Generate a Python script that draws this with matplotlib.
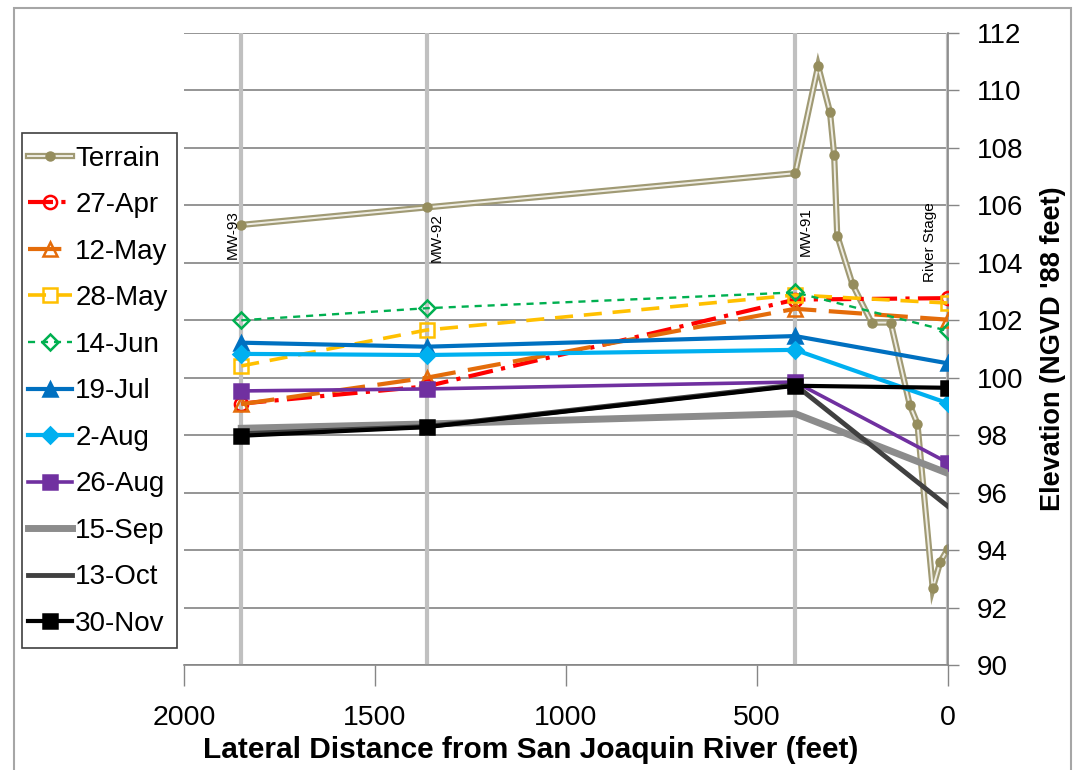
import matplotlib.pyplot as plt
from matplotlib.legend_handler import HandlerTuple
from matplotlib.patches import Rectangle

plt.rcParams['font.family'] = ['Liberation Sans', 'DejaVu Sans']

# distance from the river (feet) of the wells / river gauge
WELL_X = [1850, 1365, 400, 0]
WELL_LABELS = ['MW-93', 'MW-92', 'MW-91', 'River Stage']
WELL_LABEL_TOP = [105.85, 105.73, 105.94, 106.1]

# ground surface profile
TERRAIN_X = [1850, 1365, 400, 340, 309, 298, 290, 250, 200, 150, 100, 80, 40, 20, 0]
TERRAIN_Y = [105.32, 105.93, 107.12, 110.85, 109.25, 107.75, 104.95, 103.25,
             101.92, 101.92, 99.05, 98.4, 92.67, 93.6, 94.05]

# water levels at MW-93, MW-92, MW-91, river stage
DATES = ['27-Apr', '12-May', '28-May', '14-Jun', '19-Jul', '2-Aug',
         '26-Aug', '15-Sep', '13-Oct', '30-Nov']
APR27 = [99.1, 99.7, 102.72, 102.77]
MAY12 = [99.08, 100.0, 102.4, 102.02]
MAY28 = [100.41, 101.66, 102.88, 102.6]
JUN14 = [102.0, 102.42, 102.97, 101.63]
JUL19 = [101.22, 101.08, 101.45, 100.5]
AUG02 = [100.83, 100.79, 100.97, 99.11]
AUG26 = [99.54, 99.61, 99.85, 97.04]
SEP15 = [98.24, 98.39, 98.75, 96.67]
OCT13 = [98.05, 98.3, 99.75, 95.52]
NOV30 = [97.98, 98.28, 99.72, 99.65]
LEVELS = [APR27, MAY12, MAY28, JUN14, JUL19, AUG02, AUG26, SEP15, OCT13, NOV30]

# (color, linewidth, dashes, marker, filled marker)
STYLES = [('#ff0000', 3.0, (6, 2, 1, 2), 'o', False),
          ('#e46c0a', 3.0, (8, 3), '^', False),
          ('#ffc000', 2.6, (5, 3), 's', False),
          ('#00b050', 1.7, (3, 2.5), 'D', False),
          ('#0070c0', 3.0, None, '^', True),
          ('#00b0f0', 3.0, None, 'D', True),
          ('#7030a0', 2.6, None, 's', True),
          ('#8c8c8c', 5.0, None, None, True),
          ('#404040', 3.5, None, None, True),
          ('#000000', 3.0, None, 's', True)]

W, H = 1075, 770
fig = plt.figure(figsize=(W / 100, H / 100), dpi=100)
ax = fig.add_axes([184 / W, 1 - 665 / H, (948 - 184) / W, (665 - 33) / H])

# vertical lines at the wells
for x in WELL_X:
	ax.axvline(x, color='#c0c0c0', lw=3, zorder=1.5)

# terrain drawn as a double line
t_out, = ax.plot(TERRAIN_X, TERRAIN_Y, color='#a09a74', lw=4.5, zorder=2, solid_joinstyle='miter')
t_in, = ax.plot(TERRAIN_X, TERRAIN_Y, color='#efede4', lw=1.4, zorder=2.1)
t_mk, = ax.plot(TERRAIN_X, TERRAIN_Y, ls='none', marker='o', ms=6.5, color='#958d5d', zorder=2.2)

handles = [(t_out, t_in, t_mk)]
labels = ['Terrain']
for i in range(len(DATES)):
	color, lw, dashes, marker, filled = STYLES[i]
	kw = dict(color=color, lw=lw, zorder=3 + i * 0.1)
	if dashes is not None:
		kw['dashes'] = dashes
	if marker is not None:
		kw['marker'] = marker
		kw['ms'] = 9.5 if marker != 'D' else 8.5
		kw['mec'] = color
		kw['mew'] = 1.8
		kw['mfc'] = color if filled else 'none'
	ln, = ax.plot(WELL_X, LEVELS[i], **kw)
	handles.append(ln)
	labels.append(DATES[i])

# well names, rotated
offs = [-9, 10, 11, -18]
for i in range(len(WELL_X)):
	ax.annotate(WELL_LABELS[i], xy=(WELL_X[i], WELL_LABEL_TOP[i]), xytext=(offs[i], 0),
		textcoords='offset pixels', rotation=90, ha='center', va='top', fontsize=11, zorder=5)

ax.set_xlim(2000, 0)
ax.set_ylim(90, 112)
ax.set_xticks([2000, 1500, 1000, 500, 0])
ax.set_yticks(range(90, 113, 2))
ax.yaxis.tick_right()
ax.yaxis.set_label_position('right')
ax.yaxis.grid(True, color='#8c8c8c', lw=1.3)
ax.set_axisbelow(True)
ax.spines['left'].set_visible(False)
ax.spines['top'].set_visible(False)
for s in ['right', 'bottom']:
	ax.spines[s].set_color('#868686')
	ax.spines[s].set_linewidth(1.2)
ax.tick_params(axis='y', direction='out', length=8, width=1, color='#868686', pad=13, labelsize=20)
ax.tick_params(axis='x', direction='out', length=15, width=1, color='#868686', pad=14, labelsize=20.5)

ax.set_xlabel('Lateral Distance from San Joaquin River (feet)', fontsize=21.5, fontweight='bold')
ax.xaxis.set_label_coords(0.454, -0.112)
ax.set_ylabel("Elevation (NGVD '88 feet)", fontsize=19.5, fontweight='bold', labelpad=12)

# legend without frame, frame drawn separately
leg = fig.legend(handles, labels, loc='upper left', bbox_to_anchor=(15.5 / W, 1 - 133 / H),
	bbox_transform=fig.transFigure, borderaxespad=0, frameon=False, fontsize=20,
	handlelength=1.6, handletextpad=0.1, borderpad=0.45,
	labelspacing=0.74, handler_map={tuple: HandlerTuple(ndivide=1)})
fig.patches.append(Rectangle((22 / W, 1 - 648 / H), (177 - 22) / W, (648 - 133) / H,
	transform=fig.transFigure, fill=False, edgecolor='#404040', lw=1.2))

# chart border
fig.patches.append(Rectangle((14 / W, -0.05), (1071 - 14) / W, 1.05 - 8 / H, transform=fig.transFigure,
	fill=False, edgecolor='#a6a6a6', lw=1.5))

plt.savefig('out.png', dpi=100)
